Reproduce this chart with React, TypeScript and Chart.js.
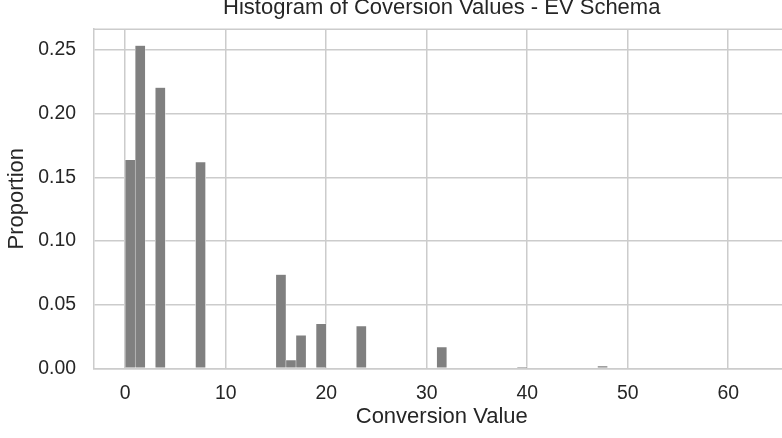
import React, { useEffect, useRef } from "react";
import { Chart, registerables } from "chart.js";

Chart.register(...registerables);

// ---- data ----
const binStart = [0, 1, 3, 7, 15, 16, 17, 19, 23, 31, 39, 47];
const proportion = [0.1638, 0.2536, 0.2206, 0.162, 0.0737, 0.0065, 0.0259, 0.035, 0.0332, 0.0166, 0.0011, 0.0017];
const binWidth = 1;
const xTicks = [0, 10, 20, 30, 40, 50, 60];
const yTicks = [0, 0.05, 0.1, 0.15, 0.2, 0.25];
const xRange = [-3.15, 66.15];
const yRange = [0, 0.2665];
const titleText = "Histogram of Coversion Values - EV Schema";
const xLabel = "Conversion Value";
const yLabel = "Proportion";

const FONT = '"Liberation Sans", Arial, Helvetica, sans-serif';
const TEXT = "#262626";
const GRID = "#cccccc";

const frameAndTitle = {
  id: "frameAndTitle",
  afterDraw(chart: any) {
    const { ctx, chartArea } = chart;
    ctx.save();
    ctx.strokeStyle = GRID;
    ctx.lineWidth = 1.5;
    ctx.beginPath();
    ctx.moveTo(chartArea.left, chartArea.top);
    ctx.lineTo(chartArea.right, chartArea.top);
    ctx.lineTo(chartArea.right, chartArea.bottom);
    ctx.stroke();
    ctx.fillStyle = TEXT;
    ctx.font = `22px ${FONT}`;
    ctx.textAlign = "center";
    ctx.textBaseline = "alphabetic";
    ctx.fillText(titleText, (chartArea.left + chartArea.right) / 2, 13.5);
    ctx.restore();
  },
};

export default function App() {
  const ref = useRef<HTMLCanvasElement | null>(null);

  useEffect(() => {
    if (!ref.current) return;
    const chart = new Chart(ref.current, {
      type: "bar",
      data: {
        datasets: [
          {
            data: binStart.map((b, i) => ({ x: b + binWidth / 2, y: proportion[i] })),
            backgroundColor: "#808080",
            borderColor: "#ffffff",
            borderWidth: 0.5,
            borderSkipped: "start",
            barPercentage: 1,
            categoryPercentage: 1,
          } as any,
        ],
      },
      options: {
        animation: false,
        responsive: false,
        maintainAspectRatio: false,
        devicePixelRatio: 1,
        layout: { padding: { top: 26, left: 0, right: 10, bottom: 0 } },
        plugins: {
          legend: { display: false },
          tooltip: { enabled: false },
          title: { display: false },
        },
        scales: {
          x: {
            type: "linear",
            offset: false,
            min: xRange[0],
            max: xRange[1],
            afterBuildTicks: (s: any) => {
              s.ticks = xTicks.map((v) => ({ value: v }));
            },
            afterFit: (s: any) => {
              s.height = 69.7;
            },
            ticks: {
              autoSkip: false,
              maxRotation: 0,
              padding: 14,
              color: TEXT,
              font: { family: FONT, size: 19.4 },
              callback: (v: any) => String(v),
            },
            grid: { color: GRID, lineWidth: 1.5, drawTicks: false, offset: false },
            border: { display: true, color: GRID, width: 1.5 },
            title: {
              display: true,
              text: xLabel,
              color: TEXT,
              font: { family: FONT, size: 22 },
              padding: { top: 0, bottom: 8 },
            },
          } as any,
          y: {
            type: "linear",
            min: yRange[0],
            max: yRange[1],
            afterBuildTicks: (s: any) => {
              s.ticks = yTicks.map((v) => ({ value: v }));
            },
            afterFit: (s: any) => {
              s.width = 93.5;
            },
            ticks: {
              padding: 17.5,
              color: TEXT,
              font: { family: FONT, size: 19.4 },
              callback: (v: any) => Number(v).toFixed(2),
            },
            grid: { color: GRID, lineWidth: 1.5, drawTicks: false },
            border: { display: true, color: GRID, width: 1.5 },
            title: {
              display: true,
              text: yLabel,
              color: TEXT,
              font: { family: FONT, size: 22 },
              padding: { top: 4, bottom: 0 },
            },
          },
        },
      },
      plugins: [frameAndTitle],
    });
    return () => chart.destroy();
  }, []);

  return (
    <div
      style={{
        position: "fixed",
        left: 0,
        top: 0,
        width: 782,
        height: 438,
        overflow: "hidden",
        background: "#ffffff",
      }}
    >
      <canvas ref={ref} width={800} height={438} style={{ width: 800, height: 438, display: "block" }} />
    </div>
  );
}
